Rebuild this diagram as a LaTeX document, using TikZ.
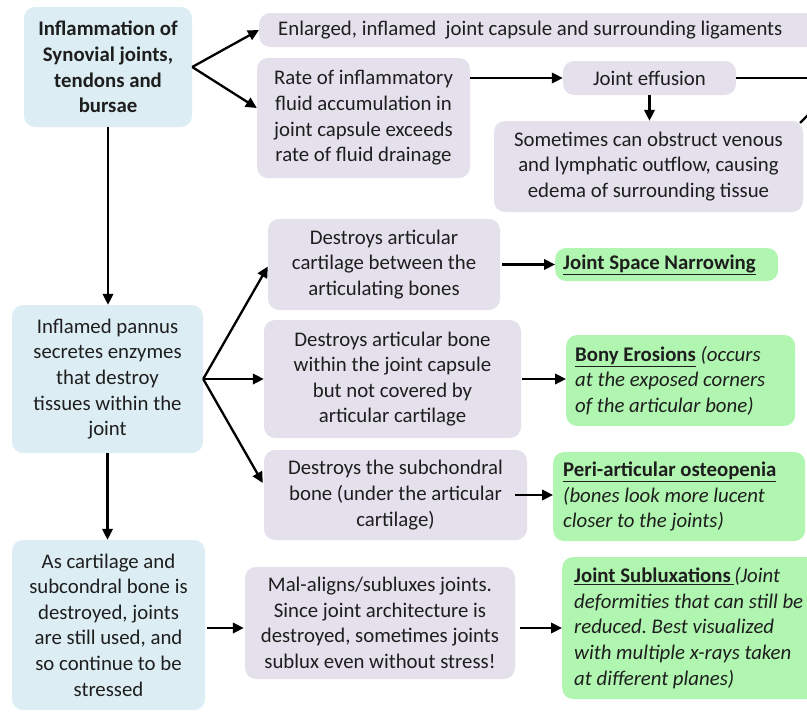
\documentclass[tikz,border=0pt]{standalone}
\usepackage{fontspec}
\setmainfont{Carlito}
\usetikzlibrary{arrows.meta,calc}
\definecolor{bluebox}{RGB}{220,238,244}
\definecolor{purplebox}{RGB}{228,224,236}
\definecolor{greenbox}{RGB}{176,246,176}
\definecolor{txt}{RGB}{30,30,30}
\frenchspacing
\begin{document}
\begin{tikzpicture}[x=1pt,y=-1pt,
  base/.style={rounded corners=11pt, inner sep=0pt, align=flush center, text=txt,
    font=\fontsize{20.8}{25.6}\selectfont},
  bluenode/.style={base, fill=bluebox},
  purplenode/.style={base, fill=purplebox},
  greennode/.style={base, fill=greenbox, align=flush left},
  conn/.style={draw=black, line width=2.3pt, -{Triangle[length=11pt,width=10.5pt]}},
  plain/.style={draw=black, line width=2.3pt}]
\clip (0,0) rectangle (807,713);
\fill[white] (0,0) rectangle (807,713);

% left column
\node[bluenode, minimum width=168, minimum height=120] (infl) at (108,67)
  {\textbf{Inflammation of}\\\textbf{Synovial joints,}\\\textbf{tendons and}\\\textbf{bursae}};
\node[bluenode, minimum width=191, minimum height=148] (pannus) at (107.5,379)
  {Inflamed pannus\\secretes enzymes\\that destroy\\tissues within the\\joint};
\node[bluenode, minimum width=193, minimum height=170] (ascart) at (108.5,625)
  {As cartilage and\\subcondral bone is\\destroyed, joints\\are still used, and\\so continue to be\\stressed};

% top right
\node[purplenode, anchor=west, align=flush left, text width=522, inner xsep=19, minimum height=34] (enl) at (259,30)
  {Enlarged, inflamed\ \ joint capsule and surrounding ligaments};
\node[purplenode, minimum width=213, minimum height=120] (rate) at (363.5,118)
  {Rate of inflammatory\\fluid accumulation in\\joint capsule exceeds\\rate of fluid drainage};
\node[purplenode, minimum width=173, minimum height=34] (eff) at (649.5,78)
  {Joint effusion};
\node[purplenode, minimum width=309, minimum height=91] (some) at (648.5,166.5)
  {Sometimes can obstruct venous\\and lymphatic outflow, causing\\edema of surrounding tissue};
\coordinate (effout) at (815,78);
\coordinate (someout) at (815,108);
\coordinate (somecorner) at (800,123);

% middle
\node[purplenode, minimum width=232, minimum height=91] (dac) at (384,264.5)
  {Destroys articular\\cartilage between the\\articulating bones};
\node[purplenode, minimum width=257, minimum height=118] (dab) at (392.5,379)
  {Destroys articular bone\\within the joint capsule\\but not covered by\\articular cartilage};
\node[purplenode, minimum width=263, minimum height=90] (ds) at (395.5,495)
  {Destroys the subchondral\\bone (under the articular\\cartilage)};
\node[purplenode, minimum width=270, minimum height=112] (mal) at (380,623)
  {Mal-aligns/subluxes joints.\\Since joint architecture is\\destroyed, sometimes joints\\sublux even without stress!};

% green
\node[greennode, anchor=west, minimum height=33, inner xsep=8, text width=207] (jsn) at (555,264.5)
  {\underline{\textbf{Joint Space Narrowing}}};
\node[greennode, anchor=west, minimum height=91, inner xsep=9, text width=211] (bony) at (566,380.5)
  {\underline{\textbf{Bony Erosions}} \textit{(occurs}\\\textit{at the exposed corners}\\\textit{of the articular bone)}};
\node[greennode, anchor=west, minimum height=89, inner xsep=10, text width=232] (peri) at (553,496.5)
  {\underline{\textbf{Peri-articular osteopenia}}\\\textit{(bones look more lucent}\\\textit{closer to the joints)}};
\node[greennode, anchor=west, minimum height=142, inner xsep=12, text width=240] (jsub) at (562,628)
  {\underline{\textbf{Joint Subluxations}\,}\textit{(Joint}\\\textit{deformities that can still be}\\\textit{reduced. Best visualized}\\\textit{with multiple x-rays taken}\\\textit{at different planes)}};

% connectors
\draw[conn] (infl.east) -- (enl.west);
\draw[conn] (infl.east) -- ($(rate.west)+(0,-10)$);
\draw[conn] (rate.east |- eff.west) -- (eff.west);
\draw[conn] (eff.south) -- (eff.south |- some.north);
\draw[plain] (eff.east) -- (effout);
\draw[plain] (somecorner) -- (someout);
\draw[conn] (infl.south) -- (infl.south |- pannus.north);
\draw[conn] (pannus.east) -- ($(dac.west)+(0,2)$);
\draw[conn] (pannus.east) -- (dab.west);
\draw[conn] (pannus.east) -- ($(ds.west)+(-1,-12)$);
\draw[conn] (pannus.south) -- (pannus.south |- ascart.north);
\draw[conn] ($(ascart.east)+(2,3)$) -- ($(mal.west)+(-1,5)$);
\draw[conn] ($(dac.east)+(2,0)$) -- (jsn.west);
\draw[conn] ($(dab.east)+(1,0)$) -- (bony.west |- dab.east);
\draw[conn] ($(ds.east)+(-12,0)$) -- (peri.west |- ds.east);
\draw[conn] ($(mal.east)+(5,5)$) -- (jsub.west);
\end{tikzpicture}
\end{document}
